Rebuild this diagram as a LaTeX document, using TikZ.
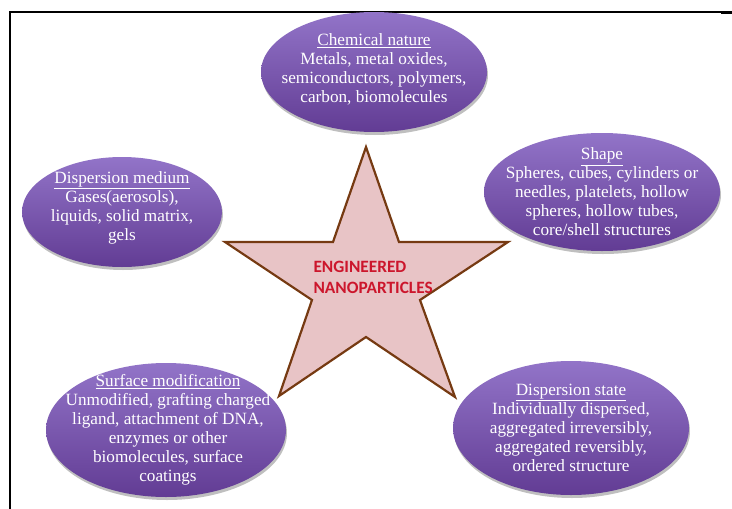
\documentclass[tikz,border=0pt]{standalone}
\usepackage{fontspec}
\setmainfont{Liberation Serif}
\newfontfamily\corefont{Carlito}
\usetikzlibrary{shapes.geometric,shadows,positioning,calc}

\definecolor{bubtop}{RGB}{146,116,200}
\definecolor{bubbot}{RGB}{98,60,148}
\definecolor{starfill}{RGB}{232,196,198}
\definecolor{starline}{RGB}{118,58,18}
\definecolor{corered}{RGB}{204,22,44}

\tikzset{
  bubble/.style={ellipse,inner sep=0pt,draw=none,top color=bubtop,bottom color=bubbot,
    drop shadow={shadow xshift=1pt,shadow yshift=-3pt,opacity=.25,fill=black}},
  bubtext/.style={align=center,text=white,font=\fontsize{17.2}{19}\selectfont},
  starbody/.style={fill=starfill,draw=starline,line width=2.2pt,line join=miter},
  core/.style={align=left,anchor=west,text=corered,font=\corefont\bfseries\fontsize{17.3}{21}\selectfont},
}

\begin{document}
\begin{tikzpicture}[x=1pt,y=-1pt]
\useasboundingbox (0,0) rectangle (732,509);

% Define star corners (outer tips and inner corners).
    \coordinate (top) at (366,147);
    \coordinate (uri) at (399,242);     %upper right inner corner
    \coordinate (rt)  at (508,242);     %right tip
    \coordinate (lri) at (420,300);
    \coordinate (brt) at (455,397);     %bottom right tip
    \coordinate (bi)  at (366,337);
    \coordinate (blt) at (279,396);     %bottom left tip
    \coordinate (lli) at (312,300);
    \coordinate (lt)  at (225,242);     %left tip
    \coordinate (uli) at (333,242);

% Frame.
    \draw[line width=1.6pt] (10,509) -- (10,12) -- (721,12);
    \draw[line width=2.4pt] (721,12.6) -- (732,12.6);

% STAR
    \draw[starbody] (top) -- (uri) -- (rt) -- (lri) -- (brt) -- (bi) -- (blt) -- (lli) -- (lt) -- (uli) -- cycle;
    \node[core] (core) at (310,277.5) {ENGINEERED\\NANOPARTICLES};

% Bubbles round the star.
    \node[bubble,minimum width=226pt,minimum height=120pt] (chem) at (374,72) {};
    \node[bubtext] (chemtxt) at ($(chem)+(0,-3)$) {\underline{Chemical nature}\\Metals, metal oxides,\\semiconductors, polymers,\\carbon, biomolecules};

    \node[bubble,minimum width=200pt,minimum height=110pt] (medium) at (122,212) {};
    \node[bubtext] (mediumtxt) at ($(medium)+(0,-4)$) {\underline{Dispersion medium}\\Gases(aerosols),\\liquids, solid matrix,\\gels};

    \node[bubble,minimum width=236pt,minimum height=118pt] (shape) at (602,192) {};
    \node[bubtext] (shapetxt) at (shape) {\underline{Shape}\\Spheres, cubes, cylinders or\\needles, platelets, hollow\\spheres, hollow tubes,\\core/shell structures};

    \node[bubble,minimum width=240pt,minimum height=134pt] (surface) at (166,430) {};
    \node[bubtext] (surfacetxt) at ($(surface)+(2,0)$) {\underline{Surface modification}\\Unmodified, grafting charged\\ligand, attachment of DNA,\\enzymes or other\\biomolecules, surface\\coatings};

    \node[bubble,minimum width=236pt,minimum height=134pt] (state) at (571,428) {};
    \node[bubtext] (statetxt) at (state) {\underline{Dispersion state}\\Individually dispersed,\\aggregated irreversibly,\\aggregated reversibly,\\ordered structure};

\end{tikzpicture}
\end{document}
